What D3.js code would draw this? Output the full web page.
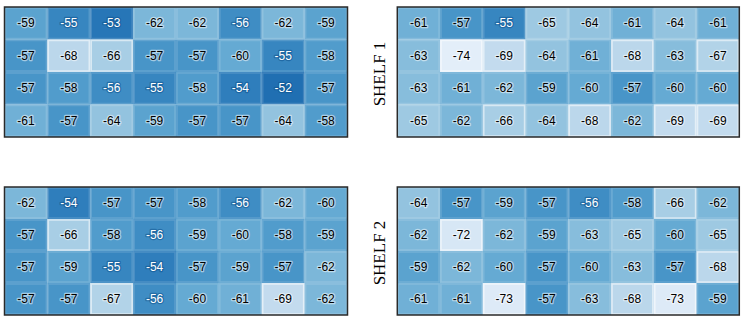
<!DOCTYPE html>
<html>
<head>
<meta charset="utf-8">
<script src="https://cdn.jsdelivr.net/npm/d3@7"></script>
<style>
  body { margin: 0; background: #fff; }
  svg { display: block; }
  .cell text { font-family: "Liberation Sans", Arial, sans-serif; font-size: 12px; paint-order: stroke; stroke-linejoin: round; }
  .shelf { font-family: "Liberation Serif", "Times New Roman", serif; font-size: 17px; fill: #000; }
</style>
</head>
<body>
<svg id="chart" width="743" height="325"></svg>
<script>
// signal strength per shelf, left / right side, 4 rows x 8 columns
const shelves = ["SHELF 1", "SHELF 2"];

const shelf1Left = [
  [-59, -55, -53, -62, -62, -56, -62, -59],
  [-57, -68, -66, -57, -57, -60, -55, -58],
  [-57, -58, -56, -55, -58, -54, -52, -57],
  [-61, -57, -64, -59, -57, -57, -64, -58]
];
const shelf1Right = [
  [-61, -57, -55, -65, -64, -61, -64, -61],
  [-63, -74, -69, -64, -61, -68, -63, -67],
  [-63, -61, -62, -59, -60, -57, -60, -60],
  [-65, -62, -66, -64, -68, -62, -69, -69]
];
const shelf2Left = [
  [-62, -54, -57, -57, -58, -56, -62, -60],
  [-57, -66, -58, -56, -59, -60, -58, -59],
  [-57, -59, -55, -54, -57, -59, -57, -62],
  [-57, -57, -67, -56, -60, -61, -69, -62]
];
const shelf2Right = [
  [-64, -57, -59, -57, -56, -58, -66, -62],
  [-62, -72, -62, -59, -63, -65, -60, -65],
  [-59, -62, -60, -57, -60, -63, -57, -68],
  [-61, -61, -73, -57, -63, -68, -73, -59]
];

const panels = [
  {data: shelf1Left, x: 4.5, y: 7, w: 343, h: 130},
  {data: shelf1Right, x: 397.3, y: 7, w: 342, h: 130},
  {data: shelf2Left, x: 4.5, y: 187, w: 343, h: 128},
  {data: shelf2Right, x: 397.3, y: 187, w: 342, h: 128}
];

const svg = d3.select("#chart");

const t = d3.scaleLinear().domain([-74, -52]).range([0.1, 0.76]);
const color = v => d3.interpolateBlues(t(v));

panels.forEach(p => {
  const cols = d3.range(p.data[0].length);
  const rows = d3.range(p.data.length);
  const x = d3.scaleBand().domain(cols).range([p.x, p.x + p.w]);
  const y = d3.scaleBand().domain(rows).range([p.y, p.y + p.h]);

  const cells = [];
  p.data.forEach((row, r) => row.forEach((v, c) => cells.push({r, c, v})));

  const g = svg.append("g");

  const cell = g.selectAll("g.cell")
    .data(cells)
    .join("g")
    .attr("class", "cell");

  cell.append("rect")
    .attr("x", d => x(d.c))
    .attr("y", d => y(d.r))
    .attr("width", x.bandwidth())
    .attr("height", y.bandwidth())
    .attr("fill", d => color(d.v));

  // soft bevel on each tile
  cell.append("rect")
    .attr("x", d => x(d.c) + 1)
    .attr("y", d => y(d.r) + 1)
    .attr("width", x.bandwidth() - 2)
    .attr("height", y.bandwidth() - 2)
    .attr("fill", "none")
    .attr("stroke", "#fff")
    .attr("stroke-opacity", d => d.v < -65 ? 0.55 : 0.15)
    .attr("stroke-width", 1.5);

  cell.append("text")
    .attr("x", d => x(d.c) + x.bandwidth() / 2)
    .attr("y", d => y(d.r) + y.bandwidth() / 2 + 4)
    .attr("text-anchor", "middle")
    .attr("fill", d => d.v >= -56 ? "#fff" : "#000")
    .attr("stroke", d => d.v >= -56 ? "#0b4f8a" : "#fff")
    .attr("stroke-opacity", 0.5)
    .attr("stroke-width", 2.5)
    .text(d => d.v);

  g.append("rect")
    .attr("x", p.x)
    .attr("y", p.y)
    .attr("width", p.w)
    .attr("height", p.h)
    .attr("fill", "none")
    .attr("stroke", "#2a2a2a")
    .attr("stroke-width", 1.5);
});

// shelf labels between the panels
svg.selectAll("text.shelf")
  .data(shelves)
  .join("text")
  .attr("class", "shelf")
  .attr("text-anchor", "middle")
  .attr("transform", (d, i) => `translate(385,${[74, 253][i]}) rotate(-90)`)
  .text(d => d);
</script>
</body>
</html>
